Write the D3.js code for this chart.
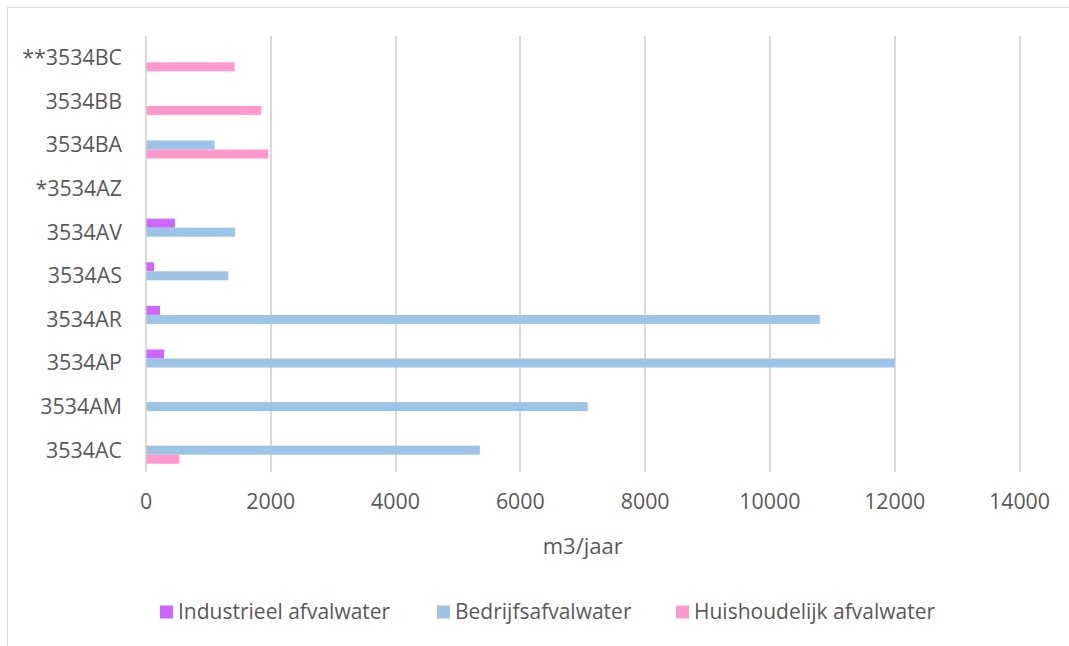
<!DOCTYPE html>
<html>
<head>
<meta charset="utf-8">
<script src="https://cdn.jsdelivr.net/npm/d3@7/dist/d3.min.js"></script>
<style>
  html, body { margin: 0; padding: 0; background: #ffffff; }
  svg { display: block; }
  text { font-family: "Open Sans", "Noto Sans", sans-serif; fill: #595959; }
</style>
</head>
<body>
<svg id="chart" width="1069" height="646"></svg>
<script>
// Postcodes, listed top to bottom
const categories = ["**3534BC", "3534BB", "3534BA", "*3534AZ", "3534AV", "3534AS", "3534AR", "3534AP", "3534AM", "3534AC"];

// Afvalwater per postcode (m3/jaar); null = geen waarde
const industrieel   = [null, null, null, null, 465, 130, 225, 290, null, null];
const bedrijfs      = [null, null, 1100, null, 1430, 1320, 10800, 12000, 7080, 5350];
const huishoudelijk = [1420, 1850, 1960, null, null, null, null, null, null, 535];

const seriesNames = ["Industrieel afvalwater", "Bedrijfsafvalwater", "Huishoudelijk afvalwater"];
const seriesColors = ["#cc66ff", "#9dc3e6", "#ff99cc"];
const seriesValues = [industrieel, bedrijfs, huishoudelijk];

const xTicks = [0, 2000, 4000, 6000, 8000, 10000, 12000, 14000];
const axisTitle = "m3/jaar";

const svg = d3.select("#chart");

// Chart area frame
svg.append("path")
  .attr("d", "M7.5,646 V7.5 H1069")
  .attr("fill", "none")
  .attr("stroke", "#d9d9d9")
  .attr("stroke-width", 1);

const plot = { left: 146, right: 1019.5, top: 36, bottom: 472 };

const x = d3.scaleLinear().domain([0, 14000]).range([plot.left, plot.right]);
const y0 = d3.scaleBand().domain(categories).range([plot.top, plot.bottom]).padding(0);
const y1 = d3.scaleBand().domain(seriesNames).range([0, y0.bandwidth()])
  .paddingInner(0).paddingOuter(0.92);

// Vertical gridlines
svg.append("g")
  .selectAll("line")
  .data(xTicks)
  .join("line")
  .attr("x1", d => Math.round(x(d)))
  .attr("x2", d => Math.round(x(d)))
  .attr("y1", plot.top)
  .attr("y2", plot.bottom)
  .attr("stroke", "#d9d9d9")
  .attr("stroke-width", 2);

// Bars
const rows = [];
categories.forEach((c, i) => {
  seriesNames.forEach((s, j) => {
    const v = seriesValues[j][i];
    if (v != null) rows.push({ cat: c, series: s, value: v, color: seriesColors[j] });
  });
});

svg.append("g")
  .selectAll("rect")
  .data(rows)
  .join("rect")
  .attr("x", x(0) + 0.5)
  .attr("y", d => y0(d.cat) + y1(d.series))
  .attr("width", d => x(d.value) - x(0) - 0.5)
  .attr("height", y1.bandwidth())
  .attr("fill", d => d.color);

// Category labels
svg.append("g")
  .selectAll("text")
  .data(categories)
  .join("text")
  .attr("x", 122)
  .attr("y", d => y0(d) + y0.bandwidth() / 2)
  .attr("dy", "0.35em")
  .attr("text-anchor", "end")
  .style("font-size", "21.4px")
  .text(d => d);

// X tick labels
svg.append("g")
  .selectAll("text")
  .data(xTicks)
  .join("text")
  .attr("x", d => x(d))
  .attr("y", 502)
  .attr("dy", "0.35em")
  .attr("text-anchor", "middle")
  .style("font-size", "21.4px")
  .text(d => d);

// Axis title
svg.append("text")
  .attr("x", (plot.left + plot.right) / 2)
  .attr("y", 546)
  .attr("dy", "0.35em")
  .attr("text-anchor", "middle")
  .style("font-size", "22px")
  .text(axisTitle);

// Legend
const legendX = [160, 437, 676];
const legend = svg.append("g")
  .selectAll("g")
  .data(seriesNames)
  .join("g")
  .attr("transform", (d, i) => `translate(${legendX[i]},612)`);

legend.append("rect")
  .attr("x", 0)
  .attr("y", -6.5)
  .attr("width", 13)
  .attr("height", 13)
  .attr("fill", (d, i) => seriesColors[i]);

legend.append("text")
  .attr("x", 18)
  .attr("y", 0)
  .attr("dy", "0.35em")
  .style("font-size", "21px")
  .text(d => d);
</script>
</body>
</html>
